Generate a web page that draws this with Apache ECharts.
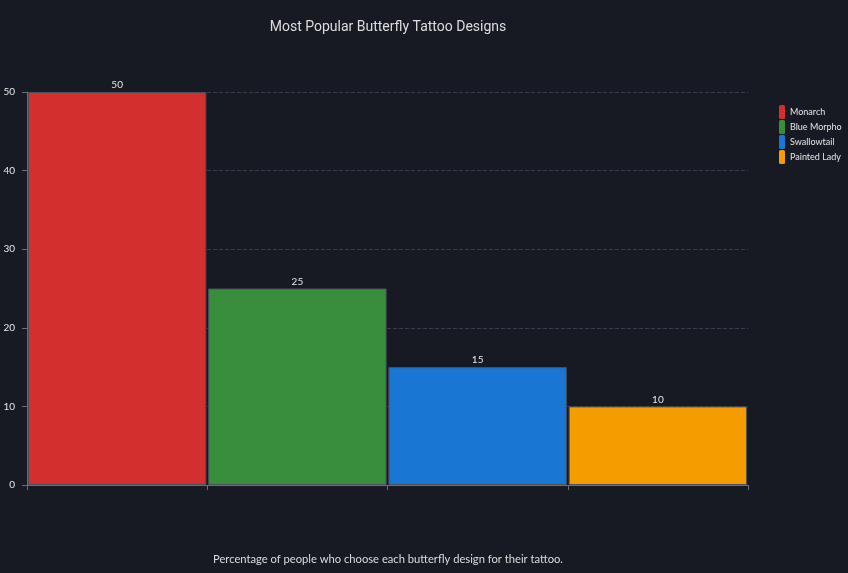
<!DOCTYPE html>
<html><head><meta charset="utf-8">
<style>html,body{margin:0;padding:0;background:#171a22;}#c{width:848px;height:573px;}</style>
<script src="https://cdn.jsdelivr.net/npm/echarts@6/dist/echarts.min.js"></script>
</head><body><div id="c"></div>
<script>
const categories = ['Monarch', 'Blue Morpho', 'Swallowtail', 'Painted Lady'];
const values = [50, 25, 15, 10];
const colors = ['#d32f2f', '#388e3c', '#1976d2', '#f59c00'];
const yTicks = [0, 10, 20, 30, 40, 50];

const chart = echarts.init(document.getElementById('c'));
const series = categories.map((name, i) => ({
  name: name,
  type: 'bar',
  barGap: '-100%',
  barWidth: '99%',
  data: categories.map((c, j) => j === i ? values[i] : '-'),
  itemStyle: { color: colors[i], borderColor: '#4a4f5a', borderWidth: 1 },
  label: { show: true, position: 'top', color: '#e6e6e6', fontSize: 10, distance: 2, fontFamily: 'Lato' }
}));
chart.setOption({
  backgroundColor: '#171a22',
  title: [
    { text: 'Most Popular Butterfly Tattoo Designs', left: 383, top: 15, textAlign: 'center',
      textStyle: { color: '#dddddd', fontSize: 14, fontWeight: 'normal', fontFamily: 'Roboto' } },
    { text: 'Percentage of people who choose each butterfly design for their tattoo.', left: 383, top: 549, textAlign: 'center',
      textStyle: { color: '#dddddd', fontSize: 11.2, fontWeight: 'normal', fontFamily: 'Lato' } }
  ],
  legend: {
    orient: 'vertical', left: 774, top: 100, itemWidth: 6, itemHeight: 14, itemGap: 1,
    padding: 5,
    itemStyle: { borderWidth: 0 },
    textStyle: { color: '#e6e6e6', fontSize: 9, fontFamily: 'Lato', padding: [0, 0, 0, 0] },
    data: categories
  },
  grid: { left: 27, right: 100, top: 92, bottom: 88 },
  xAxis: {
    type: 'category', data: categories,
    axisLine: { lineStyle: { color: '#6b6f78' } },
    axisTick: { show: true, lineStyle: { color: '#6b6f78' } },
    axisLabel: { show: false }
  },
  yAxis: {
    type: 'value', min: yTicks[0], max: yTicks[yTicks.length - 1], interval: 10,
    axisLine: { show: true, lineStyle: { color: '#6b6f78' } },
    axisTick: { show: true, lineStyle: { color: '#6b6f78' } },
    axisLabel: { color: '#e6e6e6', fontSize: 10, fontFamily: 'Lato', margin: 12 },
    splitLine: { lineStyle: { color: '#3a3e48', type: 'dashed' } }
  },
  series: series
});
</script></body></html>
